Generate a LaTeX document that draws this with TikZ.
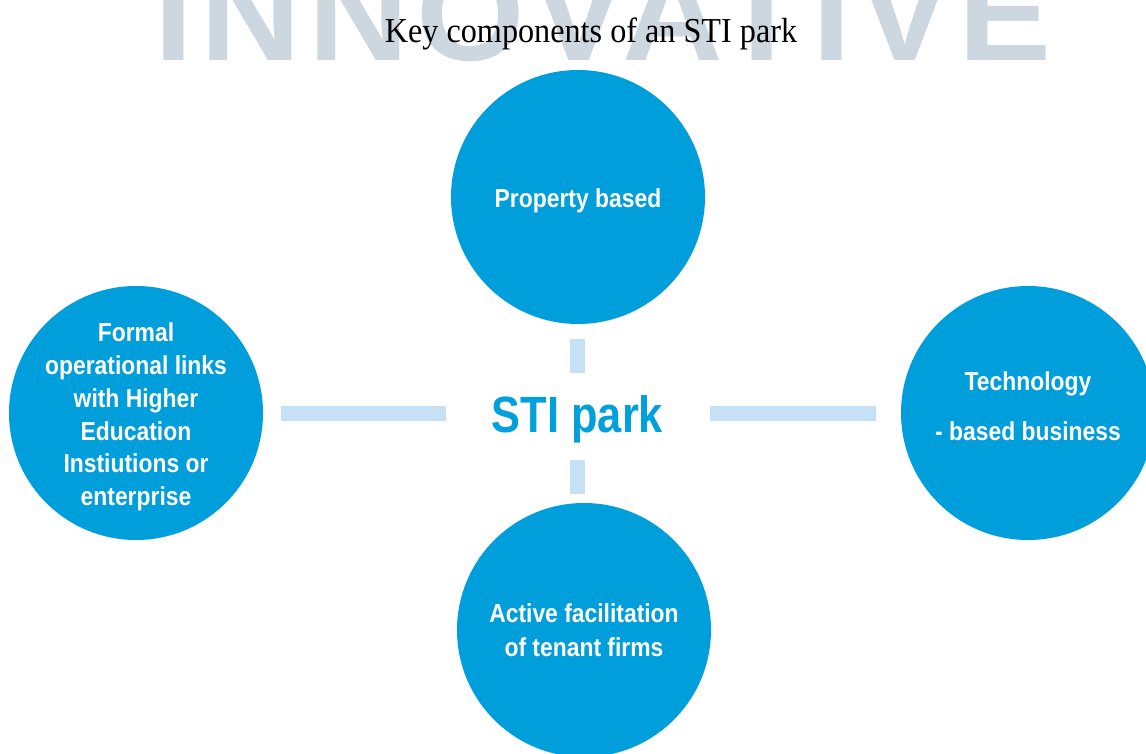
\documentclass[tikz,border=0pt]{standalone}
\usepackage{fontspec}
\setmainfont{Liberation Serif}
\newfontfamily\titlefont[FakeStretch=0.92]{Liberation Serif}
\newfontfamily\circfont[FakeStretch=0.88]{Liberation Sans}
\newfontfamily\hubfont[FakeStretch=0.85]{Liberation Sans}
\newfontfamily\wmfont[FakeStretch=1.04,LetterSpace=5.5]{Liberation Sans}
\definecolor{circblue}{RGB}{0,158,219}
\definecolor{barblue}{RGB}{198,225,245}
\definecolor{hubblue}{RGB}{0,160,220}
\definecolor{wmgrey}{RGB}{205,215,223}
\tikzset{
  comp/.style={circle, fill=circblue, minimum size=254pt, inner sep=0pt},
  ctext/.style={inner sep=0pt, text=white, align=center,
    font=\circfont\bfseries\fontsize{26}{32.8}\selectfont},
  hub/.style={inner sep=0pt, text=hubblue, text height=37pt, text depth=0pt,
    font=\hubfont\bfseries\fontsize{51}{55}\selectfont},
  bar/.style={draw=barblue, line width=15pt},
  wmark/.style={inner sep=0pt, text=wmgrey,
    font=\wmfont\bfseries\fontsize{134}{140}\selectfont},
  titletext/.style={inner sep=0pt, text=black,
    font=\titlefont\fontsize{35}{40}\selectfont}
}
\begin{document}
\begin{tikzpicture}[x=1pt,y=-1pt]
\useasboundingbox (0,0) rectangle (1146,753);
\clip (0,0) rectangle (1146,753);
\fill[white] (0,0) rectangle (1146,753);
% watermark
\node[wmark, anchor=base] (wm) at (603,60) {INNOVATIVE};
% title
\node[titletext, anchor=base] (title) at (591,42) {Key components of an STI park};
% circles
\node[comp, label={[ctext, name=toptext, yshift=-4pt]center:{Property based}}] (top) at (578,197) {};
\node[comp, label={[ctext, name=lefttext, yshift=-4pt]center:{Formal\\operational links\\with Higher\\Education\\Instiutions or\\enterprise}}] (left) at (136,413) {};
\node[comp, label={[ctext, name=righttext, yshift=7pt]center:{Technology\\[17.2pt]- based business}}] (right) at (1028,413) {};
\node[comp, label={[ctext, name=bottext, yshift=0pt]center:{Active facilitation\\[1.8pt]of tenant firms}}] (bot) at (584,630) {};
% hub
\node[hub] (hub) at (577.5,413.5) {STI park};
% bars
\draw[bar, shorten <=131.5pt, shorten >=145pt] (hub.center) -- (hub.center -| left.center);
\draw[bar, shorten <=132.5pt, shorten >=152pt] (hub.center) -- (hub.center -| right.center);
\draw[bar, shorten <=40.5pt, shorten >=142pt] (hub.center) -- (hub.center |- top.center);
\draw[bar, shorten <=46.5pt, shorten >=136pt] (hub.center) -- (hub.center |- bot.center);
\end{tikzpicture}
\end{document}
